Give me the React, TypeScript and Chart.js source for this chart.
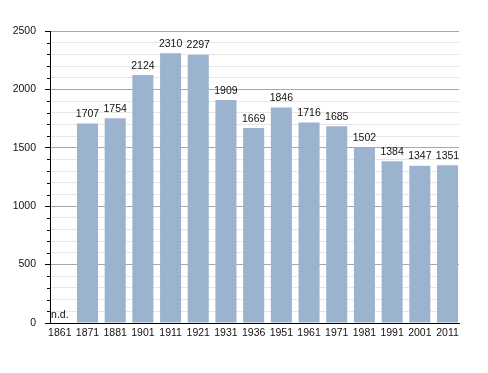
import React, { useEffect, useRef } from "react";
import { Chart, registerables } from "chart.js";

Chart.register(...registerables);

const years = ["1861", "1871", "1881", "1901", "1911", "1921", "1931", "1936", "1951", "1961", "1971", "1981", "1991", "2001", "2011"];
const population: (number | null)[] = [null, 1707, 1754, 2124, 2310, 2297, 1909, 1669, 1846, 1716, 1685, 1502, 1384, 1347, 1351];
const yMax = 2500;
const yStep = 100;
const majorStep = 500;
const missingLabel = "n.d.";

const FONT = "'Liberation Sans', Arial, sans-serif";

const labelsPlugin = {
  id: "valueLabels",
  afterDatasetsDraw(chart: any) {
    const ctx = chart.ctx;
    const meta = chart.getDatasetMeta(0);
    const xs = chart.scales.x;
    const ys = chart.scales.y;
    ctx.save();
    ctx.font = `10.5px ${FONT}`;
    ctx.fillStyle = "#111";
    ctx.textAlign = "center";
    ctx.textBaseline = "bottom";
    population.forEach((v, i) => {
      const x = xs.getPixelForValue(i);
      if (v == null) {
        ctx.fillText(missingLabel, x, ys.getPixelForValue(0) - 3);
      } else {
        const el = meta.data[i];
        ctx.fillText(String(v), x, el.y - 4);
      }
    });
    // minor ticks on y axis
    ctx.strokeStyle = "#000";
    ctx.lineWidth = 1;
    const left = chart.chartArea.left;
    for (let v = 0; v <= yMax; v += yStep) {
      if (v % majorStep === 0) continue;
      const y = Math.round(ys.getPixelForValue(v)) + 0.5;
      ctx.beginPath();
      ctx.moveTo(left - 3, y);
      ctx.lineTo(left, y);
      ctx.stroke();
    }
    ctx.restore();
  },
};

export default function App() {
  const ref = useRef<HTMLCanvasElement | null>(null);
  useEffect(() => {
    if (!ref.current) return;
    const chart = new Chart(ref.current, {
      type: "bar",
      data: {
        datasets: [
          {
            data: population.map((v, i) => ({ x: i, y: v })) as any,
            backgroundColor: "#9cb3cf",
            borderWidth: 0,
            barPercentage: 0.76,
            categoryPercentage: 1,
          },
        ],
      },
      plugins: [labelsPlugin],
      options: {
        animation: false,
        responsive: false,
        devicePixelRatio: 1,
        layout: { padding: { top: 31, right: 29, left: 0, bottom: 0 } },
        plugins: { legend: { display: false }, tooltip: { enabled: false } },
        scales: {
          x: {
            type: "linear",
            offset: false,
            min: -0.354,
            max: 14.415,
            grid: { display: false, drawTicks: false },
            border: { display: true, color: "#000", width: 1 },
            afterBuildTicks: (scale: any) => {
              scale.ticks = years.map((_, i) => ({ value: i }));
            },
            afterFit: (scale: any) => {
              scale.height = 50;
            },
            ticks: {
              autoSkip: false,
              maxRotation: 0,
              padding: 4,
              color: "#111",
              font: { family: FONT, size: 10.5 },
              callback: (v: any) => years[Math.round(Number(v))] ?? "",
            },
          },
          y: {
            min: 0,
            max: yMax,
            grid: {
              color: (c: any) => (c.tick && c.tick.value % majorStep === 0 ? "#a8a8a8" : "#e6e6e6"),
              tickColor: (c: any) => (c.tick && c.tick.value % majorStep === 0 ? "#000" : "rgba(0,0,0,0)"),
              tickLength: 5,
              lineWidth: 1,
            },
            border: { display: true, color: "#000", width: 1 },
            afterFit: (scale: any) => {
              scale.width = 50;
            },
            ticks: {
              stepSize: yStep,
              autoSkip: false,
              padding: 9,
              color: "#111",
              font: { family: FONT, size: 10.5 },
              callback: (v: any) => (Number(v) % majorStep === 0 ? String(v) : ""),
            },
          },
        },
      },
    });
    return () => chart.destroy();
  }, []);
  return (
    <div style={{ position: "fixed", left: 0, top: 0, width: 488, height: 373, background: "#fff" }}>
      <canvas ref={ref} width={488} height={373} style={{ width: 488, height: 373 }} />
    </div>
  );
}
